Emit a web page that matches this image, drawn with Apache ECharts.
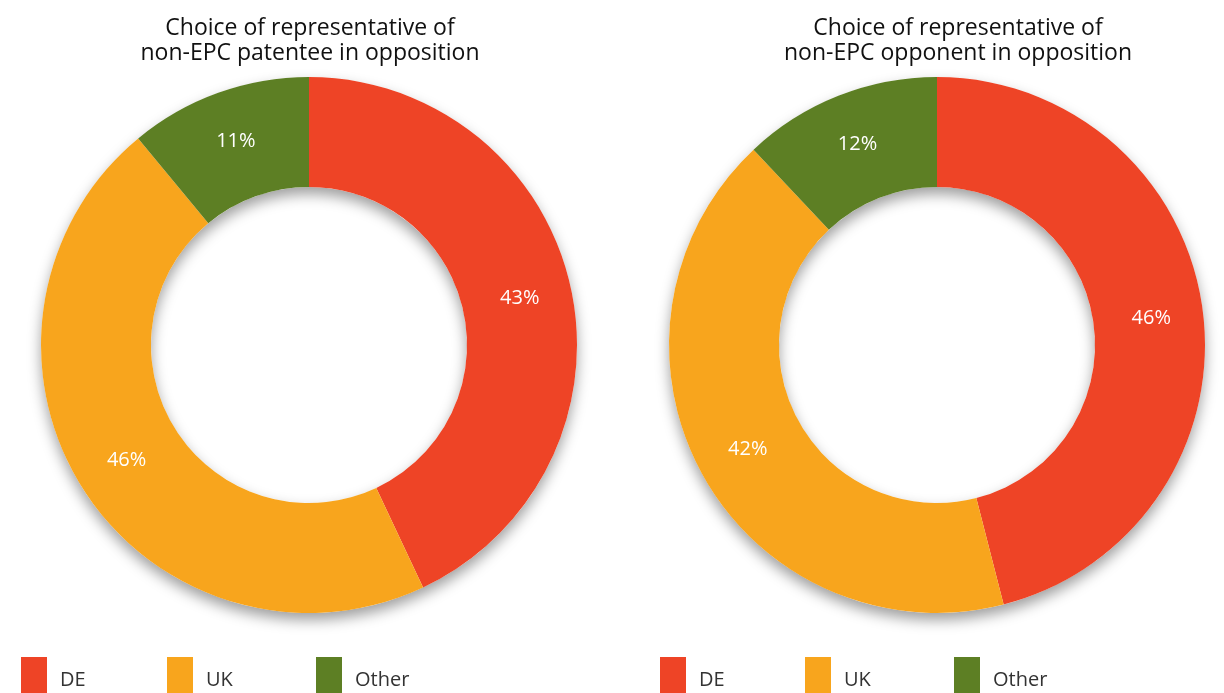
<!DOCTYPE html>
<html>
<head>
<meta charset="utf-8">
<script src="https://cdn.jsdelivr.net/npm/echarts@6/dist/echarts.min.js"></script>
<style>
  html, body { margin: 0; padding: 0; background: #ffffff; }
  #chart { width: 1224px; height: 693px; }
</style>
</head>
<body>
<div id="chart"></div>
<script>
// Representation shares (%) for non-EPC parties in opposition
const categories = ['DE', 'UK', 'Other'];
const patenteeShares = [43, 46, 11];
const opponentShares = [46, 42, 12];
const chartTitles = [
  'Choice of representative of\nnon-EPC patentee in opposition',
  'Choice of representative of\nnon-EPC opponent in opposition'
];
const sliceColors = ['#EE4426', '#F8A51D', '#5D7F24'];

const FONT = '"Open Sans", "DejaVu Sans", sans-serif';
const centers = [[309, 345], [937, 345]];
const titleX = [305, 953];
const ringRadius = [158, 268];
// left edge of each legend entry, per donut
const legendLefts = [[16, 162, 311], [655, 800, 949]];

function toData(values) {
  return categories.map((name, i) => ({ name, value: values[i] }));
}

// Soft drop shadow drawn by a plain ring behind each donut
function shadowRing(center) {
  return {
    type: 'pie',
    silent: true,
    center,
    radius: ringRadius,
    startAngle: 90,
    label: { show: false },
    labelLine: { show: false },
    tooltip: { show: false },
    itemStyle: {
      color: '#ffffff',
      shadowBlur: 14,
      shadowOffsetY: 7,
      shadowColor: 'rgba(0,0,0,0.38)'
    },
    data: [{ name: '', value: 1 }],
    z: 1
  };
}

function donut(center, values) {
  return {
    type: 'pie',
    center,
    radius: ringRadius,
    startAngle: 90,
    clockwise: true,
    avoidLabelOverlap: false,
    color: sliceColors,
    label: {
      show: true,
      position: 'inside',
      formatter: '{c}%',
      color: '#ffffff',
      fontFamily: FONT,
      fontSize: 20
    },
    labelLine: { show: false },
    emphasis: { scale: false },
    data: toData(values),
    z: 2
  };
}

function legendItem(name, left) {
  return {
    data: [name],
    left,
    top: 652,
    orient: 'horizontal',
    icon: 'rect',
    itemWidth: 26,
    itemHeight: 46,
    selectedMode: false,
    textStyle: {
      fontFamily: FONT,
      fontSize: 20,
      color: '#333333',
      padding: [0, 0, 0, 8]
    }
  };
}

const legends = [];
legendLefts.forEach(lefts => {
  categories.forEach((name, i) => legends.push(legendItem(name, lefts[i])));
});

const chart = echarts.init(document.getElementById('chart'), null, { renderer: 'canvas' });
chart.setOption({
  animation: false,
  backgroundColor: '#ffffff',
  color: sliceColors,
  title: chartTitles.map((text, i) => ({
    text,
    left: titleX[i],
    top: 11,
    textAlign: 'center',
    textStyle: {
      fontFamily: FONT,
      fontSize: 23,
      fontWeight: 'normal',
      color: '#111111',
      lineHeight: 25
    }
  })),
  legend: legends,
  series: [
    shadowRing(centers[0]),
    shadowRing(centers[1]),
    donut(centers[0], patenteeShares),
    donut(centers[1], opponentShares)
  ]
});
</script>
</body>
</html>
